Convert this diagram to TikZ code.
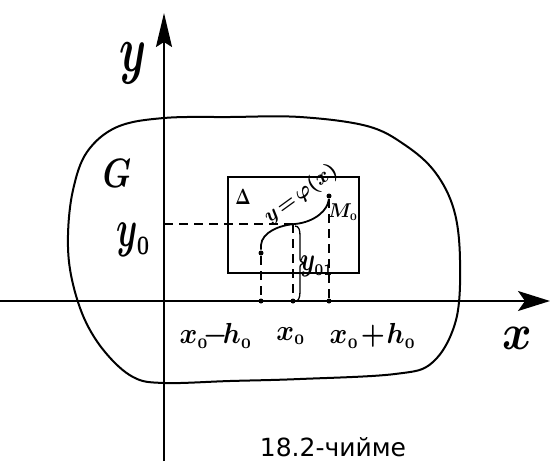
\documentclass[tikz,border=0pt]{standalone}
\usepackage{fontspec}
\newfontfamily\capfont{DejaVu Sans}
\usetikzlibrary{arrows.meta}
\newcommand{\mysz}[3]{\scalebox{#1}[#2]{\boldmath$#3$}}
\begin{document}
\begin{tikzpicture}[x=1pt,y=-1pt,
  line width=1.8pt,
  dashline/.style={line width=1.6pt,dash pattern=on 9pt off 6pt},
  dot/.style={circle,fill=black,inner sep=0pt,minimum size=5pt},
  lab/.style={inner sep=0pt}]
\useasboundingbox (0,0) rectangle (552,461);
% axes
\coordinate (xs) at (0,301);
\coordinate (xe) at (550,301);
\coordinate (ys) at (164,461);
\coordinate (ye) at (164,13);
\draw[-{Stealth[length=32pt,width=20pt,inset=7pt]}] (xs) -- (xe);
\draw[-{Stealth[length=34pt,width=16pt,inset=5pt]}] (ys) -- (ye);
% region G
\draw[line width=2pt] plot[smooth cycle,tension=0.6] coordinates {
 (117,127) (164,118) (230,117) (300,117) (367,126) (405,145) (435,172)
 (454,210) (460,260) (456,320) (433,362) (395,374) (300,379) (230,381) (164,383)
 (133,377) (105,352) (84,318) (71,275) (68,235) (73,190) (87,152)};
% rectangle Delta
\node[draw,line width=1.8pt,minimum width=131pt,minimum height=96pt,inner sep=0pt] (rect) at (293.5,225) {};
% points
\node[dot] (A) at (261,253) {};
\node[dot] (M) at (329,196) {};
\coordinate (P) at (295,224);
\node[dot] (a) at (261,301) {};
\node[dot] (b) at (293,301) {};
\node[dot] (c) at (329,301) {};
\coordinate (y0) at (164,224);
% curve
\draw (A) -- (261,245) .. controls (262,232) and (280,225) .. (P)
      .. controls (315,222) and (328,210) .. (M);
% dashed lines
\draw[dashline] (y0) -- (P);
\draw[dashline] (A) -- (a);
\draw[dashline] (P -| b) -- (b);
\draw[dashline] (M) -- (c);
% brace
\draw[line width=1.3pt] (295,226) .. controls (299,226) and (300,230) .. (300,236) -- (300,257)
  .. controls (300,261) .. (304,263) .. controls (300,265) .. (300,269) -- (300,292)
  .. controls (300,298) and (298,301) .. (b);
% labels
\node[lab] (ly) at (133,63) {\mysz{4.3}{6.5}{y}};
\node[lab] (lx) at (517,338) {\mysz{4.5}{5.0}{x}};
\node[lab] (lG) at (117,173) {\mysz{3.2}{4.1}{G}};
\node[lab] (ly0) at (134,240) {\mysz{3.4}{5.3}{y_{\scriptscriptstyle 0}}};
\node[lab] (lD) at (243,197) {\mysz{1.6}{2.2}{\Delta}};
\node[lab,rotate=36] (lphi) at (301,194) {\mysz{2.1}{2.1}{y\!=\!\varphi(x)}};
\node[lab] (lM) at (343,212) {\mysz{1.9}{2.0}{M_{\scriptscriptstyle 0}}};
\node[lab] (ly01) at (317,266) {\mysz{2.4}{3.3}{y_{\scriptscriptstyle 01}}};
\node[lab] (l1) at (216,336) {\mysz{2.7}{2.9}{x_{\scriptscriptstyle 0}\!{-}\!h_{\scriptscriptstyle 0}}};
\node[lab] (l2) at (291,336) {\mysz{2.7}{2.9}{x_{\scriptscriptstyle 0}}};
\node[lab] (l3) at (373,336) {\mysz{2.7}{2.9}{x_{\scriptscriptstyle 0}\!+\!h_{\scriptscriptstyle 0}}};
% caption
\node[inner sep=0pt,anchor=base,font=\capfont\fontsize{25}{26}\selectfont] (cap) at (333,456) {18.2-чийме};
\end{tikzpicture}
\end{document}
